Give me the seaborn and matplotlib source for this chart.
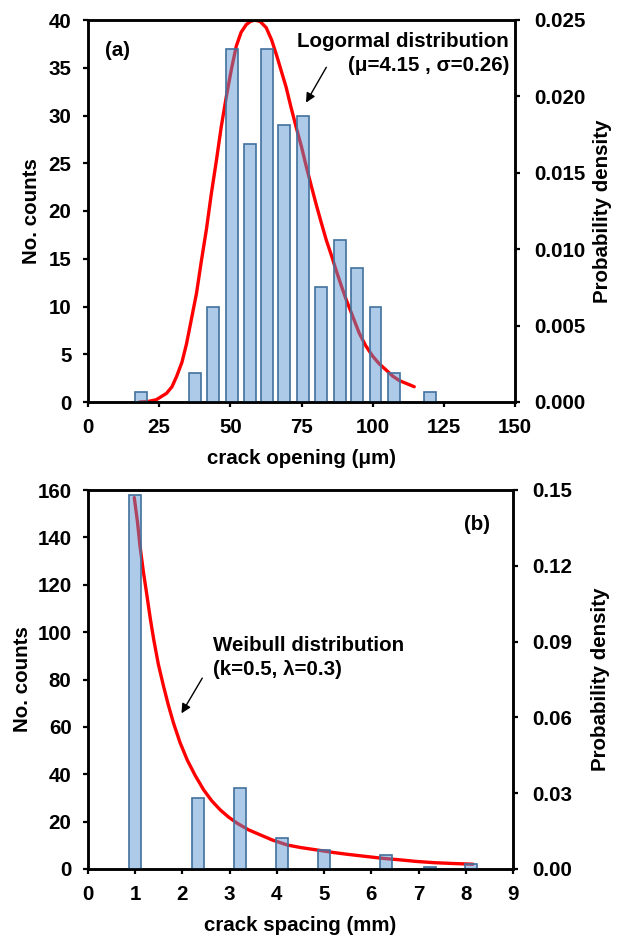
import numpy as np
import pandas as pd
import matplotlib
matplotlib.use("Agg")
import matplotlib.pyplot as plt
from matplotlib.ticker import FormatStrFormatter
import seaborn as sns

# panel (a): crack opening histogram (bar centres in um, counts)
opening_centres = [18.5, 37.5, 44, 50.5, 57, 63, 69, 75.5, 82, 88.5, 94.5, 101, 107.5, 120]
opening_counts = [1, 3, 10, 37, 27, 37, 29, 30, 12, 17, 14, 10, 3, 1]
# lognormal curve
lognorm_x = [18, 21, 24, 27.6, 29.5, 31.1, 33, 34.6, 36.3, 38.1, 39.8, 41.6, 43.3, 45.1,
             46.8, 48.6, 50.4, 52.1, 53.8, 55.6, 57, 58.5, 60.5, 62.6, 64.5, 66.4, 68,
             69.6, 71.3, 73.1, 75, 76.7, 78.5, 80.2, 82, 83.7, 85.5, 87.2, 89, 90.7, 93,
             95.3, 97.5, 100, 102.3, 104.7, 107, 109.4, 112, 114.6]
lognorm_pdf = [0.0, 0.00003, 0.00015, 0.00057, 0.0010, 0.00166, 0.0026, 0.0038, 0.0054,
               0.0071, 0.0092, 0.0113, 0.0136, 0.0158, 0.0180, 0.0200, 0.0218, 0.0233,
               0.0242, 0.0247, 0.0249, 0.0250, 0.0249, 0.0245, 0.0237, 0.0226, 0.0216,
               0.0206, 0.0193, 0.0180, 0.0167, 0.0154, 0.0141, 0.0129, 0.0117, 0.0106,
               0.0096, 0.0086, 0.0076, 0.0067, 0.0056, 0.0045, 0.0037, 0.0030, 0.0025,
               0.0021, 0.0017, 0.0014, 0.0012, 0.0010]

# panel (b): crack spacing histogram (bar centres in mm, counts)
spacing_centres = [1.0, 2.32, 3.21, 4.1, 5.0, 6.32, 7.25, 8.12]
spacing_counts = [158, 30, 34, 13, 8, 6, 1, 2]
# weibull curve
weibull_x = [0.98, 1.05, 1.10, 1.17, 1.25, 1.32, 1.39, 1.49, 1.60, 1.70, 1.81, 1.95,
             2.10, 2.27, 2.45, 2.62, 2.80, 2.98, 3.16, 3.40, 3.65, 3.90, 4.22, 4.50,
             4.86, 5.21, 5.50, 5.92, 6.25, 6.62, 6.95, 7.33, 7.70, 8.15]
weibull_pdf = [0.147, 0.137, 0.128, 0.118, 0.108, 0.099, 0.091, 0.081, 0.0723, 0.065,
               0.0578, 0.050, 0.0432, 0.037, 0.0313, 0.027, 0.0234, 0.0205, 0.0181,
               0.0155, 0.0135, 0.0115, 0.0095, 0.0085, 0.0075, 0.0065, 0.0058, 0.0049,
               0.0042, 0.0036, 0.0030, 0.0025, 0.0022, 0.0019]

sns.set_style("ticks")
plt.rcParams["font.family"] = ["Liberation Sans", "DejaVu Sans"]
plt.rcParams["font.weight"] = "bold"
plt.rcParams["axes.labelweight"] = "bold"
plt.rcParams["text.color"] = "black"
plt.rcParams["axes.labelcolor"] = "black"
plt.rcParams["xtick.color"] = "black"
plt.rcParams["ytick.color"] = "black"

FS = 14.8
BAR_FACE = (85 / 255, 146 / 255, 208 / 255, 0.48)
BAR_EDGE = "#41719C"

fig = plt.figure(figsize=(6.21, 9.36), dpi=100)


def panel(rect, centres, counts, cx, cy, width):
    ax = fig.add_axes(rect)
    ax2 = ax.twinx()
    sns.barplot(x=centres, y=counts, ax=ax, native_scale=True, orient="x",
                width=width, errorbar=None, color="#5592D0", saturation=1,
                edgecolor=BAR_EDGE, linewidth=1.2)
    for p in ax.patches:
        p.set_facecolor(BAR_FACE)
    sns.lineplot(x=cx, y=cy, ax=ax2, color="red", linewidth=2.4,
                 solid_capstyle="round", solid_joinstyle="round")
    # bars drawn over the curve
    ax.set_zorder(2)
    ax2.set_zorder(1)
    ax.patch.set_visible(False)
    for a in (ax, ax2):
        for s in a.spines.values():
            s.set_linewidth(1.8)
            s.set_color("black")
    ax.tick_params(axis="both", direction="out", length=3.8, width=1.6,
                   labelsize=FS, colors="black")
    ax.tick_params(axis="y", pad=8)
    ax.tick_params(axis="x", pad=8)
    ax2.tick_params(axis="y", direction="out", length=3.8, width=1.6,
                    labelsize=FS, pad=10, colors="black")
    for lab in ax.get_xticklabels() + ax.get_yticklabels() + ax2.get_yticklabels():
        lab.set_fontweight("bold")
    return ax, ax2


# ---- panel (a)
ax, ax2 = panel([88 / 621, 1 - 402 / 936, 427 / 621, 382 / 936],
                opening_centres, opening_counts, lognorm_x, lognorm_pdf, 0.7)
ax.set_xlim(0, 150)
ax.set_ylim(0, 40)
ax.set_xticks(np.arange(0, 151, 25))
ax.set_yticks(np.arange(0, 41, 5))
ax2.set_ylim(0, 0.025)
ax2.set_yticks(np.arange(0, 0.0251, 0.005))
ax2.yaxis.set_major_formatter(FormatStrFormatter("%.3f"))
ax.set_xlabel("crack opening (μm)", fontsize=FS, fontweight="bold")
ax.set_ylabel("No. counts", fontsize=FS, fontweight="bold")
ax2.set_ylabel("Probability density", fontsize=FS, fontweight="bold")
ax.xaxis.set_label_coords(0.5, -0.123)
ax.yaxis.set_label_coords(-0.109, 0.5)
ax2.yaxis.set_label_coords(1.183, 0.5)
ax.text(0.07, 0.919, "(a)", transform=ax.transAxes, fontsize=FS,
        fontweight="bold", ha="center", va="center")
ax.text(0.986, 0.943, "Logormal distribution", transform=ax.transAxes,
        fontsize=FS, fontweight="bold", ha="right", va="center")
ax.text(0.986, 0.882, "(μ=4.15 , σ=0.26)", transform=ax.transAxes,
        fontsize=FS, fontweight="bold", ha="right", va="center")
ax.annotate("", xy=(76.1, 31.1), xytext=(84.2, 35.3),
            arrowprops=dict(arrowstyle="-|>", color="black", lw=1.0,
                            mutation_scale=14))

# ---- panel (b)
bx, bx2 = panel([88 / 621, 1 - 869 / 936, 425 / 621, 379 / 936],
                spacing_centres, spacing_counts, weibull_x, weibull_pdf, 0.29)
bx.set_xlim(0, 9)
bx.set_ylim(0, 160)
bx.set_xticks(np.arange(0, 10, 1))
bx.set_yticks(np.arange(0, 161, 20))
bx2.set_ylim(0, 0.15)
bx2.set_yticks(np.arange(0, 0.151, 0.03))
bx2.yaxis.set_major_formatter(FormatStrFormatter("%.2f"))
bx.set_xlabel("crack spacing (mm)", fontsize=FS, fontweight="bold")
bx.set_ylabel("No. counts", fontsize=FS, fontweight="bold")
bx2.set_ylabel("Probability density", fontsize=FS, fontweight="bold")
bx.xaxis.set_label_coords(0.5, -0.124)
bx.yaxis.set_label_coords(-0.132, 0.5)
bx2.yaxis.set_label_coords(1.183, 0.5)
bx.text(0.915, 0.91, "(b)", transform=bx.transAxes, fontsize=FS,
        fontweight="bold", ha="center", va="center")
bx.text(0.293, 0.591, "Weibull distribution", transform=bx.transAxes,
        fontsize=FS, fontweight="bold", ha="left", va="center")
bx.text(0.293, 0.527, "(k=0.5, λ=0.3)", transform=bx.transAxes,
        fontsize=FS, fontweight="bold", ha="left", va="center")
bx.annotate("", xy=(1.95, 64.7), xytext=(2.45, 81.6),
            arrowprops=dict(arrowstyle="-|>", color="black", lw=1.0,
                            mutation_scale=14))

fig.savefig("out.png", dpi=100)
